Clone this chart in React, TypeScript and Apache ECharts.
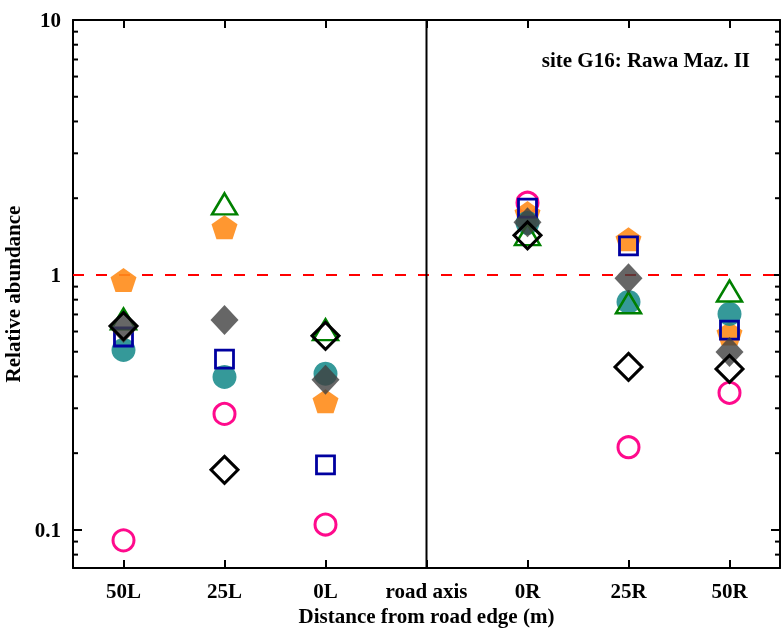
import React, { useEffect, useRef } from "react";
import * as echarts from "echarts";

const categories = ["50L", "25L", "0L", "road axis", "0R", "25R", "50R"];

const magentaCircle = [0.091, 0.285, 0.105, null, 1.92, 0.211, 0.345];
const orangePentagon = [0.955, 1.54, 0.32, null, 1.75, 1.38, 0.59];
const tealCircle = [0.508, 0.398, 0.41, null, 1.6, 0.784, 0.703];
const greenTriangle = [0.672, 1.9, 0.61, null, 1.44, 0.778, 0.865];
const blueSquare = [0.571, 0.468, 0.18, null, 1.83, 1.3, 0.608];
const grayDiamond = [0.62, 0.666, 0.388, null, 1.61, 0.97, 0.499];
const blackDiamond = [0.63, 0.172, 0.577, null, 1.43, 0.436, 0.428];

const yTickValues = [0.1, 1, 10];
const yTickLabels = ["0.1", "1", "10"];
const minorTickValues = [0.08, 0.09, 0.2, 0.3, 0.4, 0.5, 0.6, 0.7, 0.8, 0.9, 2, 3, 4, 5, 6, 7, 8, 9];
const yMin = 0.0709;
const yMax = 10;
const referenceLevel = 1;
const roadAxisCategory = "road axis";
const siteLabel = "site G16: Rawa Maz. II";
const xAxisTitle = "Distance from road edge (m)";
const yAxisTitle = "Relative abundance";

const FONT = "'Liberation Serif', 'Times New Roman', serif";
const PENTAGON = "path://M0,-1 L0.951,-0.309 L0.588,0.809 L-0.588,0.809 L-0.951,-0.309 Z";

const toData = (arr: (number | null)[]) => arr.map((v) => (v == null ? "-" : v));

export default function App() {
  const ref = useRef<HTMLDivElement>(null);
  useEffect(() => {
    if (!ref.current) return;
    const chart = echarts.init(ref.current, undefined, { renderer: "svg" });
    const axisLine = { show: true, onZero: false, lineStyle: { color: "#000", width: 2 } };
    const tickStyle = { color: "#000", width: 2 };
    const scatter = (name: string, data: (number | null)[], extra: any) => ({
      name,
      type: "scatter",
      data: toData(data),
      z: 3,
      ...extra,
    });
    const open = (color: string, w: number) => ({ color: "rgba(0,0,0,0)", borderColor: color, borderWidth: w, opacity: 1 });
    const filled = (color: string) => ({ color, opacity: 1 });
    chart.setOption({
      animation: false,
      grid: { left: 73, right: 3, top: 20, bottom: 61, containLabel: false, outerBoundsMode: "none" },
      xAxis: [
        {
          type: "category",
          data: categories,
          position: "bottom",
          boundaryGap: true,
          axisLine,
          axisTick: { show: true, inside: true, alignWithLabel: true, length: 8, lineStyle: tickStyle },
          axisLabel: { fontFamily: FONT, fontWeight: "bold", fontSize: 21, color: "#000", margin: 12, interval: 0 },
          splitLine: { show: false },
          name: xAxisTitle,
          nameLocation: "middle",
          nameGap: 32,
          nameTextStyle: { fontFamily: FONT, fontWeight: "bold", fontSize: 21, color: "#000" },
        },
        {
          type: "category",
          data: categories,
          position: "top",
          boundaryGap: true,
          axisLine,
          axisTick: { show: true, inside: true, alignWithLabel: true, length: 8, lineStyle: tickStyle },
          axisLabel: { show: false },
          splitLine: { show: false },
        },
      ],
      yAxis: [
        {
          type: "log",
          logBase: 10,
          min: yMin,
          max: yMax,
          position: "left",
          axisLine,
          axisTick: { show: true, inside: true, length: 9, lineStyle: tickStyle },
          axisLabel: {
            fontFamily: FONT,
            fontWeight: "bold",
            fontSize: 21,
            color: "#000",
            margin: 12,
            formatter: (v: number) => {
              const i = yTickValues.findIndex((t) => Math.abs(Math.log10(v) - Math.log10(t)) < 1e-6);
              return i >= 0 ? yTickLabels[i] : "";
            },
          },
          splitLine: { show: false },
          name: yAxisTitle,
          nameLocation: "middle",
          nameGap: 44,
          nameTextStyle: { fontFamily: FONT, fontWeight: "bold", fontSize: 21, color: "#000" },
        },
        {
          type: "log",
          logBase: 10,
          min: yMin,
          max: yMax,
          position: "right",
          axisLine,
          axisTick: { show: true, inside: true, length: 9, lineStyle: tickStyle },
          axisLabel: { show: false },
          splitLine: { show: false },
        },
      ],
      graphic: [
        {
          type: "text",
          right: 33,
          top: 49,
          style: { text: siteLabel, fontFamily: FONT, fontWeight: "bold", fontSize: 21, fill: "#000" },
        },
      ],
      series: [
        {
          type: "custom",
          name: "reference",
          z: 1,
          silent: true,
          data: [[roadAxisCategory, referenceLevel]],
          renderItem: (params: any, api: any) => {
            const cs = params.coordSys;
            const p = api.coord([api.value(0), api.value(1)]);
            return {
              type: "group",
              children: [
                {
                  type: "line",
                  shape: { x1: cs.x, y1: p[1], x2: cs.x + cs.width, y2: p[1] },
                  style: { stroke: "#ff0000", lineWidth: 2, lineDash: [11, 12] },
                },
                {
                  type: "line",
                  shape: { x1: p[0], y1: cs.y, x2: p[0], y2: cs.y + cs.height },
                  style: { stroke: "#000", lineWidth: 2 },
                },
              ],
            };
          },
        },
        {
          type: "custom",
          name: "minorTicks",
          z: 4,
          silent: true,
          data: minorTickValues.map((v) => [0, v]),
          renderItem: (params: any, api: any) => {
            const cs = params.coordSys;
            const p = api.coord([0, api.value(1)]);
            return {
              type: "group",
              children: [
                { type: "line", shape: { x1: cs.x, y1: p[1], x2: cs.x + 5, y2: p[1] }, style: { stroke: "#000", lineWidth: 2 } },
                {
                  type: "line",
                  shape: { x1: cs.x + cs.width - 5, y1: p[1], x2: cs.x + cs.width, y2: p[1] },
                  style: { stroke: "#000", lineWidth: 2 },
                },
              ],
            };
          },
        },
        scatter("magenta", magentaCircle, { symbol: "circle", symbolSize: 21, itemStyle: open("#ff0a8c", 3) }),
        scatter("orange", orangePentagon, {
          symbol: PENTAGON,
          symbolSize: [26, 24],
          itemStyle: filled("rgba(255,140,26,0.9)"),
        }),
        scatter("teal", tealCircle, { symbol: "circle", symbolSize: 24, itemStyle: filled("rgba(25,139,139,0.88)") }),
        scatter("green", greenTriangle, { symbol: "triangle", symbolSize: [25, 21], itemStyle: open("#008000", 2.5) }),
        scatter("blue", blueSquare, { symbol: "rect", symbolSize: 18, itemStyle: open("#0000a0", 2.8) }),
        scatter("gray", grayDiamond, { symbol: "diamond", symbolSize: [28, 30], itemStyle: filled("rgba(64,64,64,0.8)") }),
        scatter("black", blackDiamond, { symbol: "diamond", symbolSize: 27, itemStyle: open("#000000", 3) }),
      ],
    });
    return () => chart.dispose();
  }, []);
  return <div ref={ref} style={{ position: "fixed", left: 0, top: 0, width: 783, height: 629 }} />;
}
